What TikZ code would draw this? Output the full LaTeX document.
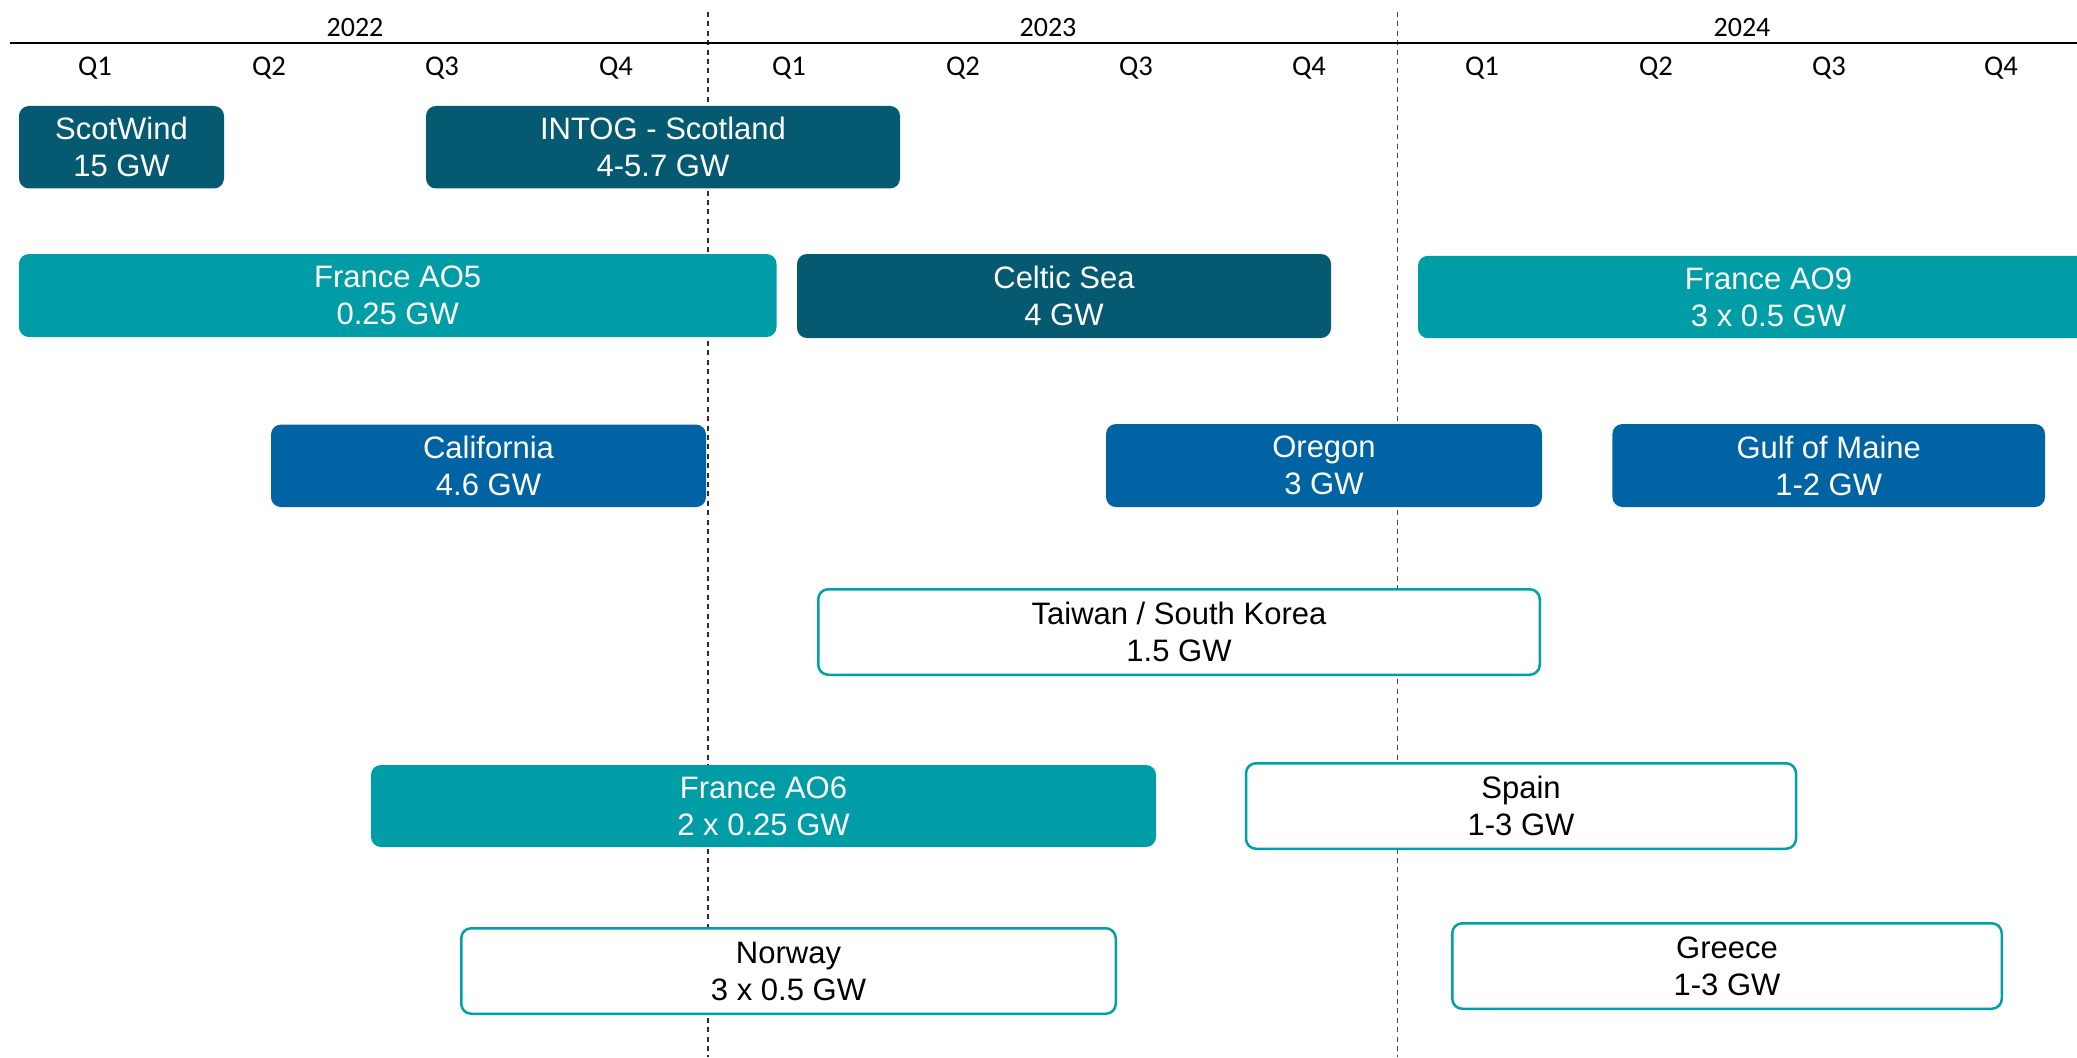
\documentclass[tikz,border=0pt]{standalone}
\usepackage{fontspec}
\setmainfont{Liberation Sans}
\newfontfamily\calib{Carlito}
\definecolor{darkteal}{RGB}{5,90,114}
\definecolor{tealc}{RGB}{0,157,166}
\definecolor{bluec}{RGB}{0,100,164}
\definecolor{outl}{RGB}{0,160,168}
\definecolor{dashA}{RGB}{40,40,85}
\definecolor{dashB}{RGB}{78,64,110}
\tikzset{
  bx/.style={rounded corners=5pt, inner sep=0pt, align=center, font=\fontsize{15.5pt}{18.5pt}\selectfont},
  darkbox/.style={bx, fill=darkteal, text=white},
  tealbox/.style={bx, fill=tealc, text=white},
  bluebox/.style={bx, fill=bluec, text=white},
  openbox/.style={bx, draw=outl, line width=1.25pt, fill=white, text=black},
  yearlbl/.style={anchor=base, inner sep=0pt, font=\calib\fontsize{14pt}{16pt}\selectfont},
  qlbl/.style={anchor=base, inner sep=0pt, font=\calib\fontsize{14.3pt}{16pt}\selectfont},
  yearsep/.style={line width=0.8pt, dash pattern=on 2.5pt off 2.2pt}
}
\begin{document}
\begin{tikzpicture}[x=0.5pt,y=-0.5pt]
\useasboundingbox (0,0) rectangle (2077,1057);
% year separators
\coordinate (s1t) at (708,12); \coordinate (s1b) at (708,1057);
\coordinate (s2t) at (1397.5,12); \coordinate (s2b) at (1397.5,1057);
\draw[yearsep, draw=dashA] (s1t) -- (s1b);
\draw[yearsep, draw=dashB] (s2t) -- (s2b);
% axis
\coordinate (axl) at (9.5,43); \coordinate (axr) at (2077,43);
\draw[line width=1.35pt] (axl) -- (axr);
% years
\node[yearlbl] (y22) at (355,36.5) {2022};
\node[yearlbl] (y23) at (1048,36.5) {2023};
\node[yearlbl] (y24) at (1742,36.5) {2024};
% quarters
\node[qlbl] (q1a) at (95,75.5) {Q1};
\node[qlbl] (q2a) at (269,75.5) {Q2};
\node[qlbl] (q3a) at (442,75.5) {Q3};
\node[qlbl] (q4a) at (616,75.5) {Q4};
\node[qlbl] (q1b) at (789,75.5) {Q1};
\node[qlbl] (q2b) at (963,75.5) {Q2};
\node[qlbl] (q3b) at (1136,75.5) {Q3};
\node[qlbl] (q4b) at (1309,75.5) {Q4};
\node[qlbl] (q1c) at (1482,75.5) {Q1};
\node[qlbl] (q2c) at (1656,75.5) {Q2};
\node[qlbl] (q3c) at (1829,75.5) {Q3};
\node[qlbl] (q4c) at (2001,75.5) {Q4};
% boxes
\node[darkbox, minimum width=102.5pt, minimum height=41.25pt] (scot) at (121.5,147.2) {ScotWind\\15 GW};
\node[darkbox, minimum width=237pt, minimum height=41.25pt] (intog) at (663,147.2) {INTOG - Scotland\\4-5.7 GW};
\node[tealbox, minimum width=378.8pt, minimum height=41.5pt] (ao5) at (397.7,295.5) {France AO5\\0.25 GW};
\node[darkbox, minimum width=267pt, minimum height=42pt] (celtic) at (1064,296) {Celtic Sea\\4 GW};
\node[tealbox, minimum width=350.5pt, minimum height=41.2pt] (ao9) at (1768.5,297) {France AO9\\3 x 0.5 GW};
\node[bluebox, minimum width=217.5pt, minimum height=41.25pt] (calif) at (488.5,465.8) {California\\4.6 GW};
\node[bluebox, minimum width=218pt, minimum height=41.5pt] (oregon) at (1324,465.5) {Oregon\\3 GW};
\node[bluebox, minimum width=216.3pt, minimum height=41.5pt] (maine) at (1828.7,465.5) {Gulf of Maine\\1-2 GW};
\node[openbox, minimum width=360.75pt, minimum height=42.75pt] (taiwan) at (1179,632) {Taiwan / South Korea\\1.5 GW};
\node[tealbox, minimum width=392.5pt, minimum height=41pt] (ao6) at (763.5,806) {France AO6\\2 x 0.25 GW};
\node[openbox, minimum width=275pt, minimum height=42.75pt] (spain) at (1521,806) {Spain\\1-3 GW};
\node[openbox, minimum width=327.25pt, minimum height=42.75pt] (norway) at (788.5,971) {Norway\\3 x 0.5 GW};
\node[openbox, minimum width=274.75pt, minimum height=42.75pt] (greece) at (1727,966) {Greece\\1-3 GW};
\end{tikzpicture}
\end{document}
